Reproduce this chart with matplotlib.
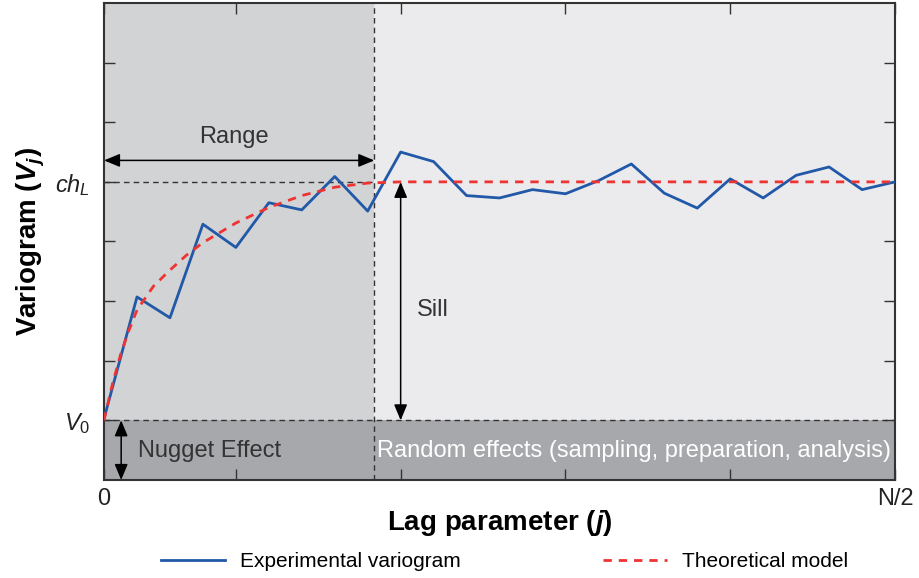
import matplotlib
matplotlib.use("Agg")
import matplotlib.pyplot as plt
import numpy as np

plt.rcParams['font.family'] = ['Liberation Sans', 'DejaVu Sans']
plt.rcParams['mathtext.fontset'] = 'custom'
plt.rcParams['mathtext.rm'] = 'Liberation Sans'
plt.rcParams['mathtext.it'] = 'Liberation Sans:italic'
plt.rcParams['mathtext.bf'] = 'Liberation Sans:italic:bold'

# experimental variogram, lag j = 0..N/2 (24 steps)
lag = np.arange(25)
vario = [1.03, 3.07, 2.72, 4.29, 3.90, 4.65, 4.53, 5.09, 4.51, 5.50, 5.34, 4.77,
         4.73, 4.87, 4.80, 5.02, 5.30, 4.81, 4.56, 5.05, 4.73, 5.11, 5.25, 4.87, 5.00]

# theoretical model
model_lag = [0, 0.25, 0.5, 0.75, 1, 1.5, 2, 2.5, 3, 4, 5, 6, 7, 8, 9, 24]
model_val = [1.0, 1.6, 2.1, 2.5, 2.85, 3.25, 3.52, 3.77, 3.98, 4.31, 4.57, 4.77, 4.91, 4.98, 5.0, 5.0]

nugget = 1.0
sill = 5.0
rng = 8.2
xmax = 24
ymax = 8

fig = plt.figure(figsize=(9.19, 5.78), dpi=100)
ax = fig.add_axes([0.1132, 0.1696, 0.8607, 0.8252])

# background regions
ax.axvspan(0, rng, ymin=nugget / ymax, ymax=1, color="#d2d3d5", lw=0, zorder=0)
ax.axvspan(rng, xmax, ymin=nugget / ymax, ymax=1, color="#ebebed", lw=0, zorder=0)
ax.axhspan(0, nugget, color="#a7a8ab", lw=0, zorder=0)

# reference dashed lines
ax.axhline(nugget, color="#333333", ls=(0, (4, 3)), lw=1, zorder=1)
ax.axvline(rng, color="#333333", ls=(0, (4, 3)), lw=1, zorder=1)
ax.plot([0, rng], [sill, sill], color="#333333", ls=(0, (4, 3)), lw=1, zorder=1)

ax.plot(lag, vario, color="#2158a8", lw=2, zorder=3, label="Experimental variogram")
ax.plot(model_lag, model_val, color="#ee3333", lw=2, ls=(0, (3, 2.5)), zorder=4,
        label="Theoretical model")

# arrows
arr = dict(arrowstyle="<|-|>,head_length=0.6,head_width=0.25", color="black", lw=1.1,
           mutation_scale=16, shrinkA=0, shrinkB=0)
ax.annotate("", xy=(0, 5.36), xytext=(rng, 5.36), arrowprops=arr)
ax.annotate("", xy=(9, sill), xytext=(9, nugget), arrowprops=arr)
ax.annotate("", xy=(0.52, nugget), xytext=(0.52, 0), arrowprops=arr)

ax.text(3.94, 5.75, "Range", ha="center", va="center", fontsize=17, color="#333333")
ax.text(9.5, 2.85, "Sill", ha="left", va="center", fontsize=17, color="#333333")
ax.text(1.03, 0.49, "Nugget Effect", ha="left", va="center", fontsize=17, color="#333333")
ax.text(8.28, 0.49, "Random effects (sampling, preparation, analysis)", ha="left",
        va="center", fontsize=17, color="white")

ax.set_xlim(0, xmax)
ax.set_ylim(0, ymax)
ax.set_xticks([0, 4, 9, 14, 19, 24])
ax.set_xticklabels(["0", "", "", "", "", "N/2"])
ax.set_yticks([1, 2, 3, 4, 5, 6, 7])
ax.set_yticklabels(["$V_0$", "", "", "", "$ch_L$", "", ""])
ax.tick_params(direction="in", length=8, width=1, color="#333333", top=True, right=True,
               labelsize=17, labelcolor="#222222")
ax.tick_params(axis="x", pad=6)
ax.tick_params(axis="y", pad=10)
for s in ax.spines.values():
    s.set_color("#333333")
    s.set_linewidth(1.5)

ax.set_xlabel(r"Lag parameter ($\mathbf{j}$)", fontsize=20, fontweight="bold", labelpad=-2)
ax.set_ylabel(r"Variogram ($\mathbf{V_j}$)", fontsize=20, fontweight="bold", labelpad=6)

fig.legend(loc="center", bbox_to_anchor=(0.549, 0.028), ncol=2, frameon=False,
           fontsize=15, handlelength=3.1, handletextpad=0.72, columnspacing=6.8,
           borderpad=0)

fig.savefig("out.png", dpi=100)
